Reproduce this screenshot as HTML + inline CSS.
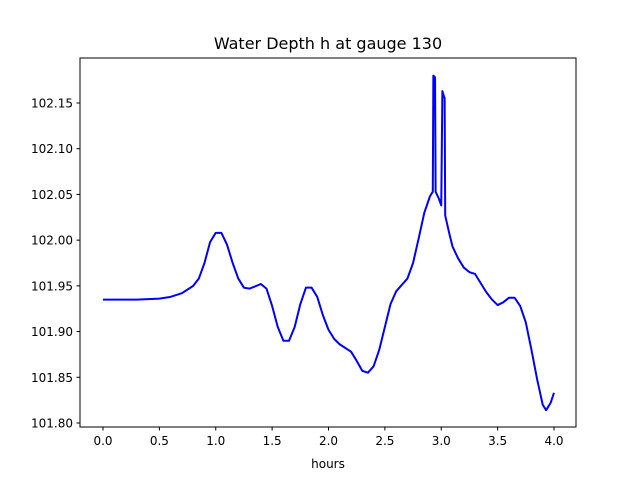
<!DOCTYPE html>
<html><head><meta charset="utf-8"><style>
body{margin:0;background:#fff}
text{font-family:"DejaVu Sans","Liberation Sans",sans-serif;fill:#000}
</style></head><body>
<svg id="chart" width="640" height="480" xmlns="http://www.w3.org/2000/svg">
<rect width="640" height="480" fill="#fff"/>
<text x="328" y="49" font-size="16" text-anchor="middle">Water Depth h at gauge 130</text>
<text x="328" y="468" font-size="12" text-anchor="middle">hours</text>
<g id="plot"></g>
<rect x="80" y="58" width="496" height="369" fill="none" stroke="#000" stroke-width="1"/>
</svg>
<script>
const hours=[0,0.3,0.5,0.6,0.7,0.8,0.85,0.9,0.95,1.0,1.05,1.1,1.15,1.2,1.25,1.3,1.4,1.45,1.5,1.55,1.6,1.65,1.7,1.75,1.8,1.85,1.9,1.95,2.0,2.05,2.1,2.2,2.25,2.3,2.35,2.4,2.45,2.5,2.55,2.6,2.65,2.7,2.75,2.8,2.85,2.9,2.925,2.93,2.945,2.95,2.98,3.0,3.01,3.03,3.035,3.07,3.1,3.15,3.2,3.25,3.3,3.35,3.4,3.45,3.5,3.55,3.6,3.65,3.7,3.75,3.8,3.85,3.9,3.93,3.97,4.0];
const depth=[101.935,101.935,101.936,101.938,101.942,101.950,101.958,101.975,101.998,102.008,102.008,101.995,101.975,101.958,101.948,101.947,101.952,101.947,101.928,101.905,101.890,101.890,101.905,101.930,101.948,101.948,101.938,101.918,101.902,101.892,101.886,101.878,101.868,101.857,101.855,101.862,101.880,101.905,101.930,101.944,101.951,101.958,101.975,102.002,102.030,102.048,102.053,102.180,102.178,102.053,102.045,102.038,102.163,102.155,102.027,102.008,101.993,101.980,101.970,101.965,101.963,101.953,101.943,101.935,101.929,101.932,101.937,101.937,101.928,101.910,101.880,101.848,101.820,101.814,101.822,101.833];
const xTicks=["0.0","0.5","1.0","1.5","2.0","2.5","3.0","3.5","4.0"];
const yTicks=["101.80","101.85","101.90","101.95","102.00","102.05","102.10","102.15"];
const NS="http://www.w3.org/2000/svg";
const g=document.getElementById('plot');
const xs=v=>103+v*112.75;
const ys=v=>423-(v-101.80)*914.3;
function mk(t,a){const e=document.createElementNS(NS,t);for(const k in a)e.setAttribute(k,a[k]);g.appendChild(e);return e;}
xTicks.forEach(t=>{const x=xs(parseFloat(t));
 const l=mk('line',{x1:x,x2:x,y1:427,y2:430.5,stroke:'#000'});
 
 
 const tx=mk('text',{x:x,y:445,'font-size':12,'text-anchor':'middle'});tx.textContent=t;
 
 
});
yTicks.forEach(t=>{const y=ys(parseFloat(t));
 const l=mk('line',{x1:76.5,x2:80,y1:y,y2:y,stroke:'#000'});
 
 
 const tx=mk('text',{x:73,y:y+4.5,'font-size':12,'text-anchor':'end'});tx.textContent=t;
 
 
});
const p=mk('polyline',{points:hours.map((h,i)=>xs(h)+','+ys(depth[i])).join(' '),fill:'none',stroke:'#0000ff','stroke-width':2,'stroke-linejoin':'round'});


</script>
</body></html>
